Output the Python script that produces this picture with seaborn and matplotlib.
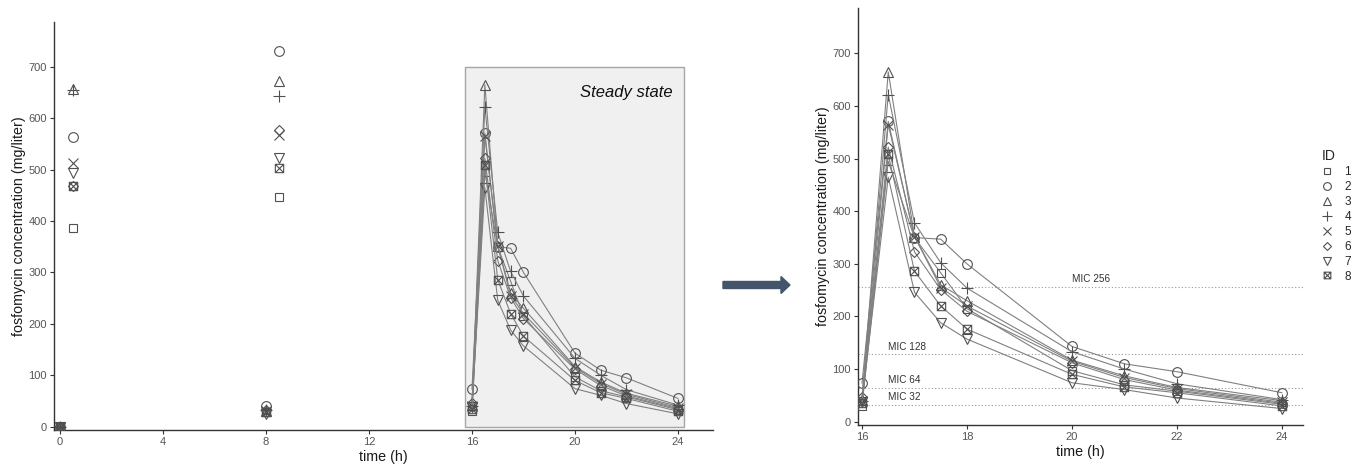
import numpy as np
import pandas as pd
import matplotlib
matplotlib.use("Agg")
import matplotlib.pyplot as plt
from matplotlib.path import Path
from matplotlib.markers import MarkerStyle
from matplotlib.lines import Line2D
from matplotlib.patches import Rectangle, FancyArrow
import seaborn as sns

# ---------------- data ----------------
ids = ["1", "2", "3", "4", "5", "6", "7", "8"]

early_times = [0, 0.5, 8, 8.5]
early_1 = [0, 387, 28, 447]
early_2 = [0, 563, 40, 730]
early_3 = [0, 657, 30, 672]
early_4 = [0, 655, 33, 643]
early_5 = [0, 513, 30, 567]
early_6 = [0, 468, 32, 577]
early_7 = [0, 494, 25, 522]
early_8 = [0, 468, 28, 503]

ss_times = [16, 16.5, 17, 17.5, 18, 20, 21, 22, 24]
ss_1 = [30, 495, 350, 283, 215, 97, 70, 58, 33]
ss_2 = [73, 571, 350, 347, 300, 143, 110, 95, 55]
ss_3 = [42, 665, 352, 260, 230, 117, 87, 65, 40]
ss_4 = [40, 622, 378, 302, 254, 133, 100, 72, 42]
ss_5 = [40, 565, 352, 255, 220, 115, 84, 63, 37]
ss_6 = [47, 522, 323, 251, 210, 112, 80, 60, 35]
ss_7 = [38, 465, 246, 188, 157, 74, 61, 45, 25]
ss_8 = [35, 508, 286, 220, 176, 90, 66, 55, 30]

mic_levels = [256, 128, 64, 32]
mic_labels = ["MIC 256", "MIC 128", "MIC 64", "MIC 32"]

early_vals = [early_1, early_2, early_3, early_4, early_5, early_6, early_7, early_8]
ss_vals = [ss_1, ss_2, ss_3, ss_4, ss_5, ss_6, ss_7, ss_8]

early_df = pd.DataFrame([(i, t, v) for i, vals in zip(ids, early_vals)
                         for t, v in zip(early_times, vals)],
                        columns=["ID", "time", "conc"])
ss_df = pd.DataFrame([(i, t, v) for i, vals in zip(ids, ss_vals)
                      for t, v in zip(ss_times, vals)],
                     columns=["ID", "time", "conc"])

# ---------------- style ----------------
sns.set_style("white")
plt.rcParams["font.family"] = ["Liberation Sans", "DejaVu Sans"]

boxx = Path([(-1, -1), (1, -1), (1, 1), (-1, 1), (-1, -1),
             (-1, -1), (1, 1), (-1, 1), (1, -1)],
            [Path.MOVETO, Path.LINETO, Path.LINETO, Path.LINETO, Path.CLOSEPOLY,
             Path.MOVETO, Path.LINETO, Path.MOVETO, Path.LINETO])
markers = ["s", "o", "^", "+", "x", "D", "v", boxx]
msizes = [6, 7, 7.5, 8.5, 6.5, 5.5, 7.5, 6]

LINE_C = "#808080"
MARK_C = "#505050"
TXT_C = "#555555"

fig = plt.figure(figsize=(13.62, 4.65), dpi=100)
axL = fig.add_axes([54 / 1362, 1 - 430 / 465, (713 - 54) / 1362, (430 - 22) / 465])
axR = fig.add_axes([858 / 1362, 1 - 425 / 465, (1303 - 858) / 1362, (425 - 8) / 465])


def draw_ss(ax):
    for i, m, ms in zip(ids, markers, msizes):
        sns.lineplot(data=ss_df[ss_df.ID == i], x="time", y="conc", ax=ax,
                     estimator=None, errorbar=None, color=LINE_C, linewidth=0.8,
                     marker=m, markersize=ms, markerfacecolor="none",
                     markeredgecolor=MARK_C, markeredgewidth=0.8, zorder=3)


# ---------------- left panel ----------------
axL.add_patch(Rectangle((15.73, -1), 24.23 - 15.73, 701, facecolor="#f0f0f0",
                        edgecolor="#a6a6a6", linewidth=1.0, zorder=1))
for i, m, ms in zip(ids, markers, msizes):
    sns.lineplot(data=early_df[early_df.ID == i], x="time", y="conc", ax=axL,
                 estimator=None, errorbar=None, linestyle="none",
                 marker=m, markersize=ms, markerfacecolor="none",
                 markeredgecolor=MARK_C, markeredgewidth=0.8, zorder=3)
draw_ss(axL)
axL.text(23.8, 649, "Steady state", style="italic", fontsize=12, ha="right",
         va="center", color="#111111", zorder=4)
axL.set_xlim(-0.233, 25.36)
axL.set_ylim(-6.4, 787)
axL.set_xticks([0, 4, 8, 12, 16, 20, 24])
axL.set_yticks(range(0, 701, 100))

# ---------------- right panel ----------------
for lvl, lab in zip(mic_levels, mic_labels):
    axR.axhline(lvl, color="#999999", linestyle=(0, (1, 2)), linewidth=0.8, zorder=1)
    axR.text(20.0 if lvl == 256 else 16.5, lvl + 5, lab, fontsize=7.2,
             color="#333333", ha="left", va="bottom", zorder=4)
draw_ss(axR)
axR.set_xlim(15.924, 24.40)
axR.set_ylim(-6.3, 786.5)
axR.set_xticks([16, 18, 20, 22, 24])
axR.set_yticks(range(0, 701, 100))

for ax in (axL, axR):
    sns.despine(ax=ax)
    for s in ("left", "bottom"):
        ax.spines[s].set_linewidth(1.0)
        ax.spines[s].set_color("#333333")
    ax.tick_params(direction="out", length=3, width=0.8, color="#333333",
                   labelsize=8, labelcolor=TXT_C, pad=2, left=True, bottom=True)
    ax.set_xlabel("time (h)", fontsize=10.3, color="#1a1a1a", labelpad=2)
    ax.set_ylabel("fosfomycin concentration (mg/liter)", fontsize=10.3,
                  color="#1a1a1a", labelpad=2)
    ax.set_facecolor("white")

# ---------------- legend ----------------
handles = [Line2D([], [], linestyle="none", marker=m, markersize=ms * 0.8,
                  markerfacecolor="none", markeredgecolor=MARK_C, markeredgewidth=0.8)
           for m, ms in zip(markers, msizes)]
fig.legend(handles, ids, title="ID", loc="upper left",
           bbox_to_anchor=(1322 / 1362, 1 - 149 / 465), frameon=False,
           fontsize=8.5, title_fontsize=10, handletextpad=1.0, labelspacing=0.25,
           handlelength=0.9, alignment="left", borderaxespad=0, borderpad=0)

# ---------------- arrow ----------------
fig.patches.append(FancyArrow(723 / 1362, 1 - 285 / 465, (790 - 723) / 1362, 0,
                              width=7 / 465, head_width=17 / 465, head_length=9 / 1362,
                              length_includes_head=True, color="#44546a",
                              transform=fig.transFigure, figure=fig))

fig.savefig("out.png", dpi=100, facecolor="white")
